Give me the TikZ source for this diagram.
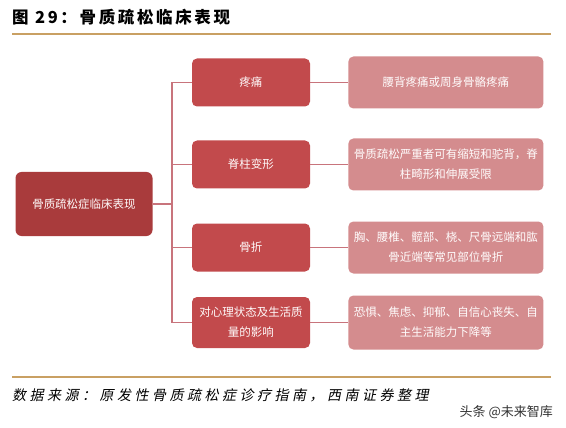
\documentclass[tikz,border=0pt]{standalone}
\usepackage{fontspec}
\setmainfont{Noto Sans CJK SC}
\newfontfamily\slantcjk[FakeSlant=0.2,LetterSpace=25]{Noto Sans CJK SC}
\newfontfamily\titlecjk[LetterSpace=16]{Noto Sans CJK SC}
\usetikzlibrary{positioning}
\definecolor{gold}{HTML}{C9A063}
\definecolor{darkred}{HTML}{A93B3C}
\definecolor{midred}{HTML}{C24A4C}
\definecolor{pinkred}{HTML}{D48C8E}
\definecolor{linkred}{HTML}{C8747C}

\begin{document}
\begin{tikzpicture}[
  x=1pt,y=-1pt,
  font=\fontsize{11.5}{20}\selectfont,
  node distance=10pt and 38pt,
  mainbox/.style={rounded corners=6pt,fill=darkred,text=white!92!pink,
                  minimum width=137pt,minimum height=64pt,align=center},
  sign/.style={rounded corners=5pt,fill=midred,text=white!92!pink,
               minimum width=118pt,minimum height=48pt,align=center,
               text width=110pt,inner sep=2pt},
  detail/.style={rounded corners=5pt,fill=pinkred,text=white!95!pink,
                 minimum width=195pt,minimum height=52pt,align=center,
                 text width=188pt,inner sep=2pt},
  link/.style={linkred,line width=1.2pt}
]
\useasboundingbox (0,0) rectangle (566,428);

% title and rules
\node[anchor=west,inner sep=0pt,font=\fontsize{16.5}{18}\selectfont\titlecjk\bfseries] (title) at (12,17)
 {图 29：骨质疏松临床表现};
\draw[gold,line width=2pt] (12,34) coordinate (t1) -- (551,34) coordinate (t2);

\node[mainbox] (main) at (84,204) {骨质疏松症临床表现};

\node[sign] (m1) at (251,82.5) {疼痛};
\node[sign] (m2) at (251,164.5) {脊柱变形};
\node[sign] (m3) at (251,247.5) {骨折};
\node[sign,minimum height=51pt] (m4) at (251,322.5) {对心理状态及生活质\\量的影响};

\node[detail,right=of m1] (d1) {腰背疼痛或周身骨骼疼痛};
\node[detail,right=of m2] (d2) {骨质疏松严重者可有缩短和驼背，脊\\柱畸形和伸展受限};
\node[detail,right=of m3] (d3) {胸、腰椎、髋部、桡、尺骨远端和肱\\骨近端等常见部位骨折};
\node[detail,right=of m4,minimum height=54pt] (d4) {恐惧、焦虑、抑郁、自信心丧失、自\\主生活能力下降等};

% connectors
\coordinate (trunk) at (172,204);
\draw[link] (main.east) -- (trunk);
\draw[link] (trunk |- m1.west) -- (trunk |- m4.west);
\foreach \i in {1,...,4}{
  \draw[link] (trunk |- m\i.west) -- (m\i.west);
  \draw[link] (m\i.east) -- (d\i.west);
}

% source
\draw[gold,line width=1.5pt] (12,377) coordinate (b1) -- (551,377) coordinate (b2);
\node[anchor=west,inner sep=0pt,font=\fontsize{14}{16}\selectfont\slantcjk] (src) at (12,395)
 {数据来源：原发性骨质疏松症诊疗指南，西南证券整理};
\node[anchor=east,inner sep=0pt,font=\fontsize{13}{15}\selectfont,text=black!80] (mark) at (553,412)
 {头条 @未来智库};
\end{tikzpicture}
\end{document}
